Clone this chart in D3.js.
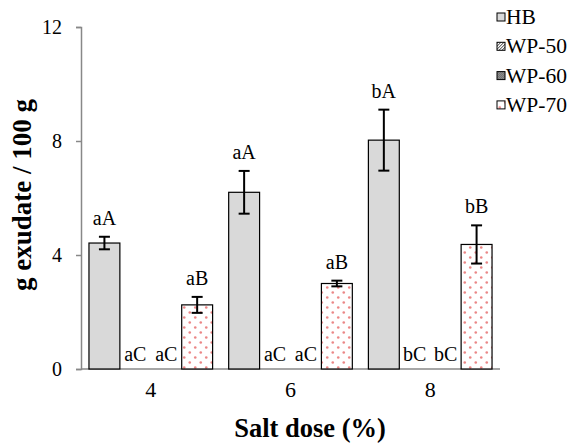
<!DOCTYPE html>
<html>
<head>
<meta charset="utf-8">
<script src="https://cdn.jsdelivr.net/npm/d3@7"></script>
<style>
  body { margin: 0; background: #fff; }
  svg, svg text { font-family: "Liberation Serif", "Times New Roman", serif; }
</style>
</head>
<body>
<div id="chart"></div>
<script>
// chart data
const doses = ['4', '6', '8'];
const seriesNames = ['HB', 'WP-50', 'WP-60', 'WP-70'];
const hbValues = [4.42, 6.2, 8.03];
const wp50Values = [0, 0, 0];
const wp60Values = [0, 0, 0];
const wp70Values = [2.25, 3.0, 4.37];
const hbErrors = [0.22, 0.75, 1.07];
const wp50Errors = [null, null, null];
const wp60Errors = [null, null, null];
const wp70Errors = [0.28, 0.1, 0.67];
const hbLetters = ['aA', 'aA', 'bA'];
const wp50Letters = ['aC', 'aC', 'bC'];
const wp60Letters = ['aC', 'aC', 'bC'];
const wp70Letters = ['aB', 'aB', 'bB'];
const yTicks = [0, 4, 8, 12];

const values = [hbValues, wp50Values, wp60Values, wp70Values];
const errors = [hbErrors, wp50Errors, wp60Errors, wp70Errors];
const letters = [hbLetters, wp50Letters, wp60Letters, wp70Letters];

const width = 574, height = 444;
const margin = { top: 27, right: 74, bottom: 75, left: 81 };
const serif = '"Liberation Serif", "Times New Roman", serif';

const svg = d3.select('#chart').append('svg')
    .attr('width', width)
    .attr('height', height)
    .attr('font-family', serif);

// fill patterns
const defs = svg.append('defs');
const hatch = defs.append('pattern')
    .attr('id', 'p-wp50').attr('patternUnits', 'userSpaceOnUse')
    .attr('width', 3).attr('height', 3);
hatch.append('rect').attr('width', 3).attr('height', 3).attr('fill', '#fff');
hatch.append('path').attr('d', 'M0,3 L3,0').attr('stroke', '#333').attr('stroke-width', 1);

const checker = defs.append('pattern')
    .attr('id', 'p-wp60').attr('patternUnits', 'userSpaceOnUse')
    .attr('width', 2).attr('height', 2);
checker.append('rect').attr('width', 2).attr('height', 2).attr('fill', '#444');
checker.append('rect').attr('width', 1).attr('height', 1).attr('fill', '#bbb');
checker.append('rect').attr('x', 1).attr('y', 1).attr('width', 1).attr('height', 1).attr('fill', '#bbb');

const dots = defs.append('pattern')
    .attr('id', 'p-wp70').attr('patternUnits', 'userSpaceOnUse')
    .attr('width', 11).attr('height', 10);
dots.append('rect').attr('width', 11).attr('height', 10).attr('fill', '#fff');
dots.append('circle').attr('cx', 2.75).attr('cy', 2.5).attr('r', 1.3).attr('fill', '#eb8686');
dots.append('circle').attr('cx', 8.25).attr('cy', 7.5).attr('r', 1.3).attr('fill', '#eb8686');

const fills = ['#d9d9d9', 'url(#p-wp50)', 'url(#p-wp60)', 'url(#p-wp70)'];

const x0 = d3.scaleBand()
    .domain(doses)
    .range([margin.left, width - margin.right])
    .paddingInner(0.115)
    .paddingOuter(0.057);

const x1 = d3.scaleBand()
    .domain(seriesNames)
    .range([0, x0.bandwidth()]);

const y = d3.scaleLinear()
    .domain([0, 12])
    .range([height - margin.bottom, margin.top]);

// axes
const yAxis = svg.append('g')
    .attr('transform', `translate(${margin.left},0)`)
    .call(d3.axisLeft(y).tickValues(yTicks).tickSize(5).tickPadding(14));
yAxis.attr('font-family', serif);
yAxis.select('.domain').attr('stroke', '#888').attr('stroke-width', 1.5);
yAxis.selectAll('.tick line').attr('stroke', '#888').attr('stroke-width', 1.5);
yAxis.selectAll('.tick text')
    .attr('font-size', 20)
    .attr('fill', '#000');

const xAxis = svg.append('g')
    .attr('transform', `translate(0,${height - margin.bottom})`)
    .call(d3.axisBottom(x0).tickSize(0).tickPadding(12));
xAxis.attr('font-family', serif);
xAxis.select('.domain').attr('stroke', '#888').attr('stroke-width', 1.5)
    .attr('d', `M${margin.left},0H${width - margin.right}`);
xAxis.selectAll('.tick text')
    .attr('font-size', 22)
    .attr('fill', '#000');

// bars
const rows = [];
doses.forEach((dose, i) => {
  seriesNames.forEach((name, s) => {
    rows.push({
      dose, name, s,
      value: values[s][i],
      err: errors[s][i],
      letter: letters[s][i]
    });
  });
});

svg.append('g').selectAll('rect.bar')
    .data(rows.filter(d => d.value > 0))
    .join('rect')
    .classed('bar', true)
    .attr('x', d => x0(d.dose) + x1(d.name))
    .attr('y', d => y(d.value))
    .attr('width', x1.bandwidth())
    .attr('height', d => y(0) - y(d.value))
    .attr('fill', d => fills[d.s])
    .attr('stroke', '#000')
    .attr('stroke-width', 1.2);

// error bars
const eb = svg.append('g').attr('stroke', '#000').attr('stroke-width', 2);
rows.filter(d => d.err != null).forEach(d => {
  const cx = x0(d.dose) + x1(d.name) + x1.bandwidth() / 2;
  eb.append('line')
      .attr('x1', cx).attr('x2', cx)
      .attr('y1', y(d.value + d.err)).attr('y2', y(d.value - d.err));
  [d.value + d.err, d.value - d.err].forEach(v => {
    eb.append('line')
        .attr('x1', cx - 5.5).attr('x2', cx + 5.5)
        .attr('y1', y(v)).attr('y2', y(v));
  });
});

// letters above bars
svg.append('g').selectAll('text')
    .data(rows)
    .join('text')
    .attr('x', d => x0(d.dose) + x1(d.name) + x1.bandwidth() / 2)
    .attr('y', d => y(d.value + (d.err || 0)) - (d.value > 0 ? 12 : 8))
    .attr('text-anchor', 'middle')
    .attr('font-size', 20)
    .text(d => d.letter);

// axis titles
svg.append('text')
    .attr('x', 310)
    .attr('y', 437)
    .attr('text-anchor', 'middle')
    .attr('font-size', 26.5)
    .attr('font-weight', 'bold')
    .text('Salt dose (%)');

svg.append('text')
    .attr('transform', 'translate(31,195) rotate(-90)')
    .attr('text-anchor', 'middle')
    .attr('font-size', 27)
    .attr('font-weight', 'bold')
    .text('g exudate / 100 g');

// legend
const legend = svg.append('g')
    .attr('transform', 'translate(497,17)');
const item = legend.selectAll('g')
    .data(seriesNames)
    .join('g')
    .attr('transform', (d, i) => `translate(0,${i * 29.3})`);
item.append('rect')
    .attr('x', 0).attr('y', -4)
    .attr('width', 8).attr('height', 8)
    .attr('fill', (d, i) => fills[i])
    .attr('stroke', '#000')
    .attr('stroke-width', 1);
item.append('text')
    .attr('x', 9)
    .attr('y', 7)
    .attr('font-size', 21.5)
    .text(d => d);
</script>
</body>
</html>
